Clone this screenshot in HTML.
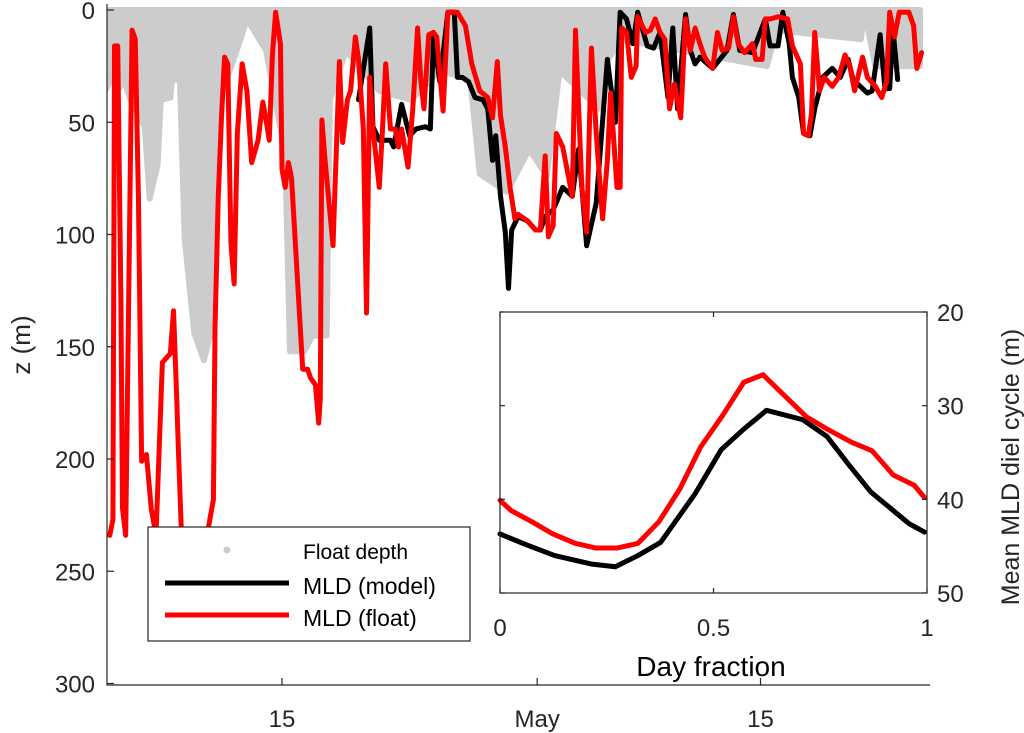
<!DOCTYPE html>
<html><head><meta charset="utf-8"><style>
html,body{margin:0;padding:0;background:#fff;}
svg{display:block;font-family:"Liberation Sans",Arial,sans-serif;}
</style></head><body>
<svg id="chart" width="1024" height="733" viewBox="0 0 1024 733" xmlns="http://www.w3.org/2000/svg">
<defs><clipPath id="mainclip"><rect x="107" y="0" width="823" height="685"/></clipPath></defs>
<g id="main"></g>
<g id="legend"></g>
<g id="inset"></g>
</svg>
<script>
// Main chart data (day of April; May 1 = day 31), depth in m
const redDays=[4.2,4.4,4.5,4.7,4.9,5.0,5.2,5.6,5.8,6.0,6.2,6.5,6.8,7.1,7.5,8.0,8.2,8.4,8.5,8.7,10.3,10.7,10.8,11.0,11.2,11.4,11.6,11.8,12.0,12.2,12.5,12.8,13.1,13.5,13.8,14.0,14.2,14.4,14.6,14.9,15.0,15.2,15.4,15.6,16.1,16.3,16.6,16.8,17.1,17.3,17.4,17.5,17.7,18.2,18.3,18.6,18.8,19.1,19.3,19.6,19.8,20.1,20.3,20.5,20.7,21.1,21.3,21.5,21.8,22.1,22.3,22.5,22.9,23.2,23.5,23.7,23.9,24.2,24.5,24.7,25.1,25.4,26.0,26.5,26.9,27.4,27.9,28.2,28.5,28.7,29.0,29.3,29.6,29.8,30.4,30.9,31.2,31.5,31.7,32.0,32.2,32.6,33.2,33.4,33.8,34.1,34.4,34.7,35.1,35.4,35.6,36.0,36.2,36.3,36.6,36.9,37.2,37.3,37.8,38.1,38.4,38.7,39.0,39.3,39.6,40.0,40.3,40.6,40.9,41.2,41.5,42.0,42.3,42.6,43.0,43.3,43.6,44.0,44.5,44.7,45.1,45.3,45.6,46.1,46.7,47.0,47.5,47.7,48.0,48.2,48.4,48.7,49.0,49.5,49.9,50.3,50.6,50.9,51.4,51.7,52.2,52.6,52.9,53.1,53.4,53.7,54.3,54.6,54.8,55.1];
const redDepth=[234,227,16,16,129,222,234,9,13,84,201,198,222,234,157,153,134,173,195,234,234,218,142,84,49,21,24,104,122,55,24,36,68,58,41,49,58,20,1,15,71,79,68,75,136,160,160,164,167,184,173,49,67,105,84,23,59,40,36,12,22,53,135,30,53,79,53,24,53,53,61,53,70,44,8,31,44,11,10,12,45,1,1,7,24,36,39,48,23,47,61,79,93,91,94,98,98,65,101,96,55,61,83,9,79,99,17,55,93,67,37,79,79,8,10,30,25,3,10,9,4,10,13,44,33,48,4,18,8,15,21,26,10,18,17,3,15,19,15,22,22,4,4,3,4,16,24,55,56,46,10,36,30,34,30,20,25,36,21,30,34,39,32,1,12,1,1,7,26,19];
const blackDays=[19.8,20.5,20.7,21.1,21.8,22.0,22.5,23.0,23.4,24.0,24.3,24.5,24.9,25.4,25.8,26.0,26.3,26.7,27.1,27.6,27.9,28.2,28.4,28.7,29.0,29.2,29.4,29.8,30.4,30.9,31.2,31.5,32.0,32.6,33.2,33.6,34.1,34.7,35.4,35.9,36.2,36.6,37.0,37.3,37.9,38.3,38.7,39.2,39.5,39.8,40.3,40.6,40.9,41.2,42.0,42.9,43.3,43.7,44.5,45.3,45.6,46.1,46.4,46.8,47.0,47.4,47.7,48.1,48.4,48.9,49.5,50.0,50.5,50.8,51.7,52.0,52.5,52.8,53.1,53.3,53.6];
const blackDepth=[40,8,52,58,58,61,42,56,53,52,53,12,32,1,1,30,30,32,39,40,44,67,56,83,99,124,98,92,94,98,98,92,89,79,83,62,105,86,22,50,1,4,15,1,16,17,10,39,8,44,2,18,24,21,26,18,2,18,19,4,16,16,1,15,30,39,55,56,44,30,26,30,22,31,37,36,11,35,35,8,31];
const floatDays=[4.0,4.4,4.7,5.1,5.5,6.4,6.7,7.2,7.4,8.0,8.1,8.6,8.9,9.5,10.1,10.6,11.1,12.4,12.8,14.0,15.2,15.5,16.4,16.9,17.8,18.0,19.0,21.1,23.1,24.9,26.8,27.4,29.1,30.5,31.6,32.4,34.9,35.2,36.2,45.4,46.0,51.3,51.5,52.2,55.0];
const floatDepth=[35,29,36,31,40,52,84,69,40,39,31,31,102,144,156,142,40,13,4,18,64,152,152,145,145,40,18,36,40,27,31,73,81,62,74,27,44,25,13,25,9,13,0,25,25];
const yTicks=[0,50,100,150,200,250,300];
const xTickDays=[15,31,45];
const xTickLabels=["15","May","15"];
// Inset data
const dielRedFrac=[0,0.026,0.075,0.124,0.176,0.225,0.274,0.323,0.372,0.421,0.470,0.522,0.571,0.616,0.661,0.718,0.766,0.823,0.871,0.921,0.970,0.994];
const dielRed=[40.1,41.2,42.4,43.7,44.7,45.2,45.2,44.7,42.4,38.9,34.4,31.0,27.5,26.7,28.7,31.2,32.5,33.9,34.8,37.4,38.5,39.8];
const dielBlackFrac=[0,0.059,0.128,0.213,0.270,0.323,0.376,0.457,0.518,0.571,0.624,0.709,0.766,0.815,0.868,0.921,0.958,0.994];
const dielBlack=[43.7,44.8,46.0,46.9,47.2,46.0,44.6,39.4,34.7,32.5,30.5,31.5,33.3,36.2,39.2,41.2,42.6,43.5];
const insetYTicks=[20,30,40,50];
const insetXTicks=[0,0.5,1];

const NS="http://www.w3.org/2000/svg";
function mk(tag,attrs,parent){const e=document.createElementNS(NS,tag);for(const k in attrs)e.setAttribute(k,attrs[k]);parent.appendChild(e);return e;}
const xM=d=>282+(d-15)*15.95;
const yM=z=>10+z*2.245;
const main=document.getElementById('main');
const plot=mk('g',{'clip-path':'url(#mainclip)'},main);


let fp=`M${xM(floatDays[0])},${yM(0)} `;
floatDays.forEach((d,i)=>{fp+=`L${xM(d)},${yM(floatDepth[i])} `;});
fp+=`L${xM(floatDays[floatDays.length-1])},${yM(0)} Z`;
const fl=mk('path',{d:fp,fill:'#cccccc',stroke:'#cccccc','stroke-width':6,'stroke-linejoin':'round'},plot);


function line(xs,ys,fx,fy,color,w,parent){return mk('polyline',{points:xs.map((d,i)=>fx(d)+','+fy(ys[i])).join(' '),fill:'none',stroke:color,'stroke-width':w,'stroke-linejoin':'round','stroke-linecap':'round'},parent);}
const bl=line(blackDays,blackDepth,xM,yM,'#000',5,plot);


const rl=line(redDays,redDepth,xM,yM,'#ff0000',5,plot);


const ax=mk('path',{d:'M107,4 V685 H930',fill:'none',stroke:'#262626','stroke-width':1.2},main);


yTicks.forEach(t=>{
  const tk=mk('line',{x1:107,x2:114,y1:yM(t),y2:yM(t),stroke:'#262626','stroke-width':1.2},main);
  
  
  const tl=mk('text',{x:95,y:yM(t)+9,'text-anchor':'end','font-size':24,fill:'#262626'},main);
  tl.textContent=t;
  
  
});
xTickDays.forEach((d,i)=>{
  const tk=mk('line',{x1:xM(d),x2:xM(d),y1:685,y2:678,stroke:'#262626','stroke-width':1.2},main);
  
  
  const tl=mk('text',{x:xM(d),y:727,'text-anchor':'middle','font-size':24,fill:'#262626'},main);
  tl.textContent=xTickLabels[i];
  
  
});
const yt=mk('text',{x:0,y:0,transform:'translate(30,345) rotate(-90)','text-anchor':'middle','font-size':26,fill:'#262626'},main);
yt.textContent='z (m)';



const lg=document.getElementById('legend');
const lb=mk('rect',{x:148,y:527,width:322,height:114,fill:'#fff',stroke:'#262626','stroke-width':1.2},lg);


const entries=[['Float depth',null,559],['MLD (model)','#000',594],['MLD (float)','#ff0000',626]];
entries.forEach(e=>{
  const g=mk('g',{},lg);
  
  
  if(e[1]===null){mk('circle',{cx:227,cy:e[2]-9,r:3.5,fill:'#cccccc'},g);}
  else{mk('line',{x1:165,x2:289,y1:e[2]-11,y2:e[2]-11,stroke:e[1],'stroke-width':5},g);}
  const t=mk('text',{x:303,y:e[2],'font-size':(e[1]===null?21:23),fill:'#000'},g);
  t.textContent=e[0];
});

const ins=document.getElementById('inset');
const X0=500,X1=927,Y0=312,Y1=593;
const xI=f=>X0+f*(X1-X0);
const yI=v=>Y0+(v-20)/30*(Y1-Y0);
const ib=mk('rect',{x:X0,y:Y0,width:X1-X0,height:Y1-Y0,fill:'#fff',stroke:'none'},ins);


const ibl=line(dielBlackFrac,dielBlack,xI,yI,'#000',5,ins);


const irl=line(dielRedFrac,dielRed,xI,yI,'#ff0000',5,ins);


const ibx=mk('rect',{x:X0,y:Y0,width:X1-X0,height:Y1-Y0,fill:'none',stroke:'#262626','stroke-width':1.2},ins);


insetYTicks.forEach(t=>{
  mk('line',{x1:X0,x2:X0+5,y1:yI(t),y2:yI(t),stroke:'#262626','stroke-width':1.2},ins);
  mk('line',{x1:X1,x2:X1-5,y1:yI(t),y2:yI(t),stroke:'#262626','stroke-width':1.2},ins);
  const tl=mk('text',{x:937,y:yI(t)+9,'font-size':24,fill:'#262626'},ins);
  tl.textContent=t;
  
  
});
insetXTicks.forEach(t=>{
  mk('line',{x1:xI(t),x2:xI(t),y1:Y1,y2:Y1-5,stroke:'#262626','stroke-width':1.2},ins);
  mk('line',{x1:xI(t),x2:xI(t),y1:Y0,y2:Y0+5,stroke:'#262626','stroke-width':1.2},ins);
  const tl=mk('text',{x:xI(t),y:636,'text-anchor':'middle','font-size':24,fill:'#262626'},ins);
  tl.textContent=t;
  
  
});
const ixt=mk('text',{x:711,y:676,'text-anchor':'middle','font-size':28,fill:'#000'},ins);
ixt.textContent='Day fraction';


const iyt=mk('text',{x:0,y:0,transform:'translate(1019,467) rotate(-90)','text-anchor':'middle','font-size':25,fill:'#262626'},ins);
iyt.textContent='Mean MLD diel cycle (m)';


</script>
</body></html>
